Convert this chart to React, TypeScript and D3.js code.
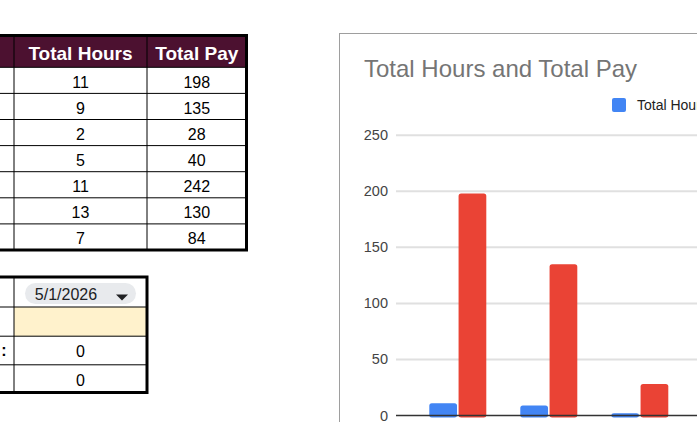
import * as d3 from 'd3';
import React from 'react';

// sheet data (first column is scrolled off to the left)
const days = ['Monday', 'Tuesday', 'Wednesday', 'Thursday', 'Friday', 'Saturday', 'Sunday'];
const totalHours = [11, 9, 2, 5, 11, 13, 7];
const totalPay = [198, 135, 28, 40, 242, 130, 84];
const headers = ['Total Hours', 'Total Pay'];
const pickedDate = '5/1/2026';
const summaryValues = [0, 0];
const yTicks = [0, 50, 100, 150, 200, 250];

const W = 697;
const H = 422;
const FONT = '"Liberation Sans", Arial, sans-serif';
const MAROON = '#4c1130';
const BLUE = '#4285f4';
const RED = '#ea4335';

function SheetTable() {
  const cols = [-20, 14, 147, 246.5];
  const rowY = d3.scaleLinear().domain([0, days.length]).range([67.3, 250]);
  const colMid = (i: number) => (cols[i] + cols[i + 1]) / 2;

  return (
    <g fontFamily={FONT}>
      <rect x={cols[0]} y={36} width={cols[3] - cols[0]} height={67.3 - 36} fill={MAROON} />
      {headers.map((h, i) => (
        <text key={h} x={colMid(i + 1)} y={59.5} textAnchor="middle" fill="#fff" fontWeight="bold" fontSize={19}>
          {h}
        </text>
      ))}
      {days.map((d, i) => (
        <g key={d}>
          <text x={colMid(1)} y={rowY(i) + 20.5} textAnchor="middle" fontSize={16} fill="#000">
            {totalHours[i]}
          </text>
          <text x={colMid(2)} y={rowY(i) + 20.5} textAnchor="middle" fontSize={16} fill="#000">
            {totalPay[i]}
          </text>
          {i > 0 && <line x1={cols[0]} x2={cols[3]} y1={rowY(i)} y2={rowY(i)} stroke="#000" strokeWidth={1} />}
        </g>
      ))}
      <line x1={cols[0]} x2={cols[3]} y1={67.3} y2={67.3} stroke="#000" strokeWidth={1} />
      {[1, 2].map((c) => (
        <line key={c} x1={cols[c]} x2={cols[c]} y1={36} y2={250} stroke="#000" strokeWidth={1} />
      ))}
      <rect x={cols[0]} y={35.5} width={cols[3] - cols[0]} height={250 - 35.5} fill="none" stroke="#000" strokeWidth={3} />
    </g>
  );
}

function DateTable() {
  const left = -20;
  const mid = 14;
  const right = 147;
  const rows = [277, 307, 336.2, 364.8, 392.5];
  return (
    <g fontFamily={FONT}>
      <rect x={mid} y={rows[1]} width={right - mid} height={rows[2] - rows[1]} fill="#fff2cc" />
      {rows.slice(1, 4).map((y) => (
        <line key={y} x1={left} x2={right} y1={y} y2={y} stroke="#000" strokeWidth={1} />
      ))}
      <line x1={mid} x2={mid} y1={rows[0]} y2={rows[4]} stroke="#000" strokeWidth={1} />
      <rect x={25} y={283} width={111} height={21} rx={10.5} fill="#e8eaed" />
      <text x={66} y={299.5} textAnchor="middle" fontSize={16} fill="#202124">
        {pickedDate}
      </text>
      <path d="M116,294.5 L128,294.5 L122,300.5 Z" fill="#202124" />
      {summaryValues.map((v, i) => (
        <text key={i} x={80.5} y={rows[i + 2] + 21} textAnchor="middle" fontSize={16} fill="#000">
          {v}
        </text>
      ))}
      <text x={4} y={rows[2] + 20} textAnchor="middle" fontSize={16} fontWeight="bold" fill="#000">
        :
      </text>
      <rect x={left} y={rows[0]} width={right - left} height={rows[4] - rows[0]} fill="none" stroke="#000" strokeWidth={3} />
    </g>
  );
}

function BarChart() {
  const y = d3.scaleLinear().domain([0, 250]).range([415.5, 135.2]);
  const x = d3.scaleBand<string>().domain(days).range([412.3, 412.3 + 91 * days.length]).paddingInner(34 / 91).paddingOuter(17 / 91);
  const inner = d3.scaleBand<string>().domain(['hours', 'pay']).range([0, x.bandwidth()]).paddingInner(3 / 57);
  const series = [
    { key: 'hours', values: totalHours, color: BLUE },
    { key: 'pay', values: totalPay, color: RED },
  ];
  const gridLeft = 396;

  return (
    <g fontFamily={FONT}>
      <rect x={339.5} y={33.5} width={W} height={H} fill="#fff" stroke="#9e9e9e" strokeWidth={1} />
      <text x={364} y={77} fontSize={24} fill="#757575">
        Total Hours and Total Pay
      </text>
      <rect x={612} y={98} width={14} height={14} rx={2} fill={BLUE} />
      <text x={637} y={110} fontSize={14} fill="#222">
        Total Hours
      </text>
      {yTicks.map((t) => (
        <g key={t}>
          {t > 0 && <line x1={gridLeft} x2={W} y1={y(t)} y2={y(t)} stroke="#e0e0e0" strokeWidth={2} />}
          <text x={388} y={y(t) + 5} textAnchor="end" fontSize={14.5} fill="#444">
            {t}
          </text>
        </g>
      ))}
      {series.map((s) =>
        days.map((d, i) => {
          const bx = (x(d) ?? 0) + (inner(s.key) ?? 0);
          const top = y(s.values[i]);
          return (
            <rect
              key={s.key + d}
              x={bx}
              y={top}
              width={inner.bandwidth()}
              height={y(0) - top + 2}
              rx={2.5}
              fill={s.color}
            />
          );
        }),
      )}
      <line x1={gridLeft} x2={W} y1={y(0)} y2={y(0)} stroke="#333" strokeWidth={1.5} />
    </g>
  );
}

export default function App() {
  return (
    <svg
      width={W}
      height={H}
      viewBox={`0 0 ${W} ${H}`}
      style={{ position: 'fixed', left: 0, top: 0, background: '#fff' }}
    >
      <rect width={W} height={H} fill="#fff" />
      <SheetTable />
      <DateTable />
      <BarChart />
    </svg>
  );
}
